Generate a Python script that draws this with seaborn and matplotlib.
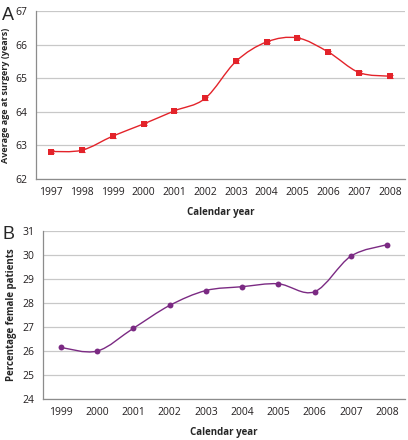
import numpy as np
import pandas as pd
import matplotlib
matplotlib.use("Agg")
import matplotlib.pyplot as plt
from matplotlib.path import Path
from matplotlib.patches import PathPatch
import seaborn as sns

# Panel A: average age at surgery
years_a = ["1997", "1998", "1999", "2000", "2001", "2002",
           "2003", "2004", "2005", "2006", "2007", "2008"]
age_mean = [62.82, 62.86, 63.28, 63.64, 64.03, 64.40,
            65.50, 66.08, 66.20, 65.78, 65.17, 65.06]
age_err = [0.05, 0.05, 0.05, 0.04, 0.04, 0.04,
           0.04, 0.04, 0.04, 0.04, 0.04, 0.04]

# Panel B: percentage female patients
years_b = ["1999", "2000", "2001", "2002", "2003",
           "2004", "2005", "2006", "2007", "2008"]
pct_female = [26.15, 26.00, 26.95, 27.90, 28.52,
              28.68, 28.80, 28.47, 29.95, 30.43]

RED = "#e3232a"
PURPLE = "#7b2a83"


def smooth_path(x, y):
    # Excel-style smoothed line as cubic bezier segments
    x = np.asarray(x, float)
    y = np.asarray(y, float)
    pts = np.column_stack([x, y])
    n = len(pts)
    verts = [pts[0]]
    codes = [Path.MOVETO]
    for i in range(n - 1):
        p0 = pts[i - 1] if i > 0 else pts[i]
        p1 = pts[i]
        p2 = pts[i + 1]
        p3 = pts[i + 2] if i + 2 < n else pts[i + 1]
        c1 = p1 + (p2 - p0) / 6.0
        c2 = p2 - (p3 - p1) / 6.0
        verts += [c1, c2, p2]
        codes += [Path.CURVE4] * 3
    return Path(verts, codes)


def style_axis(ax, labels, ylim, yticks, ylabel, ylab_size):
    n = len(labels)
    ax.set_xlim(-0.5, n - 0.5)
    ax.set_ylim(*ylim)
    ax.set_yticks(yticks)
    ax.set_xticks(range(n))
    ax.set_xticklabels(labels)
    ax.set_xticks(np.arange(-0.5, n, 1.0), minor=True)
    ax.tick_params(axis="x", which="major", length=0, pad=6, labelsize=7.5, colors="#231f20")
    ax.tick_params(axis="x", which="minor", length=4, width=0.8, color="#8c8c8c")
    ax.tick_params(axis="y", length=3, width=0.8, color="#8c8c8c", labelsize=7.5, labelcolor="#231f20", pad=3)
    ax.grid(axis="y", color="#c8c8c8", linewidth=0.9)
    ax.grid(axis="x", visible=False)
    ax.set_axisbelow(True)
    for s in ["top", "right"]:
        ax.spines[s].set_visible(False)
    for s in ["left", "bottom"]:
        ax.spines[s].set_color("#8c8c8c")
        ax.spines[s].set_linewidth(0.9)
    ax.set_xlabel("Calendar year", fontsize=7, fontweight="bold", labelpad=6)
    ax.set_ylabel(ylabel, fontsize=ylab_size, fontweight="bold", labelpad=4)


sns.set_style("white")
plt.rcParams["font.family"] = ["Open Sans", "DejaVu Sans"]

fig = plt.figure(figsize=(4.08, 4.40), dpi=100)
ax1 = fig.add_axes([0.088, 0.593, 0.905, 0.382])
ax2 = fig.add_axes([0.105, 0.093, 0.888, 0.382])

# Panel A
df_a = pd.DataFrame({"year": years_a, "age": age_mean, "err": age_err})
xa = np.arange(len(df_a))
ax1.add_patch(PathPatch(smooth_path(xa, df_a["age"]), facecolor="none",
                        edgecolor=RED, linewidth=1.0, zorder=3))
ax1.errorbar(xa, df_a["age"], yerr=df_a["err"], fmt="none", ecolor=RED,
             elinewidth=0.8, capsize=2.2, capthick=0.8, zorder=4)
sns.scatterplot(x=xa, y=df_a["age"], ax=ax1, marker="s", s=16, color=RED,
                edgecolor=RED, linewidth=0, zorder=5, legend=False)
style_axis(ax1, years_a, (62, 67), range(62, 68), "Average age at surgery (years)", 6.5)

# Panel B
df_b = pd.DataFrame({"year": years_b, "pct": pct_female})
xb = np.arange(len(df_b))
ax2.add_patch(PathPatch(smooth_path(xb, df_b["pct"]), facecolor="none",
                        edgecolor=PURPLE, linewidth=1.0, zorder=3))
sns.scatterplot(x=xb, y=df_b["pct"], ax=ax2, marker="o", s=18, color=PURPLE,
                edgecolor=PURPLE, linewidth=0, zorder=5, legend=False)
style_axis(ax2, years_b, (24, 31), range(24, 32), "Percentage female patients", 7)

fig.text(0.005, 0.965, "A", fontsize=13, family=["Liberation Sans", "DejaVu Sans"], va="center")
fig.text(0.005, 0.467, "B", fontsize=13, family=["Liberation Sans", "DejaVu Sans"], va="center")

fig.savefig("out.png", dpi=100)
